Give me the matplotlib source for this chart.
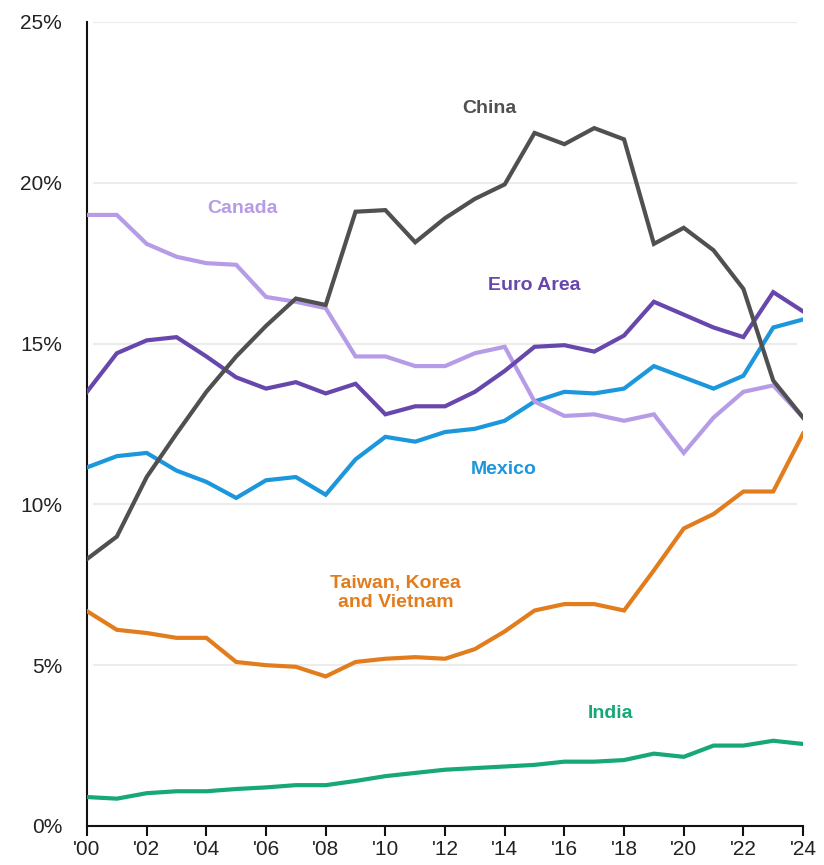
import matplotlib
matplotlib.use("Agg")
import matplotlib.pyplot as plt
import numpy as np

years = list(range(2000, 2025))

china = [8.3, 9.0, 10.85, 12.2, 13.5, 14.6, 15.55, 16.4, 16.2, 19.1, 19.15, 18.15,
         18.9, 19.5, 19.95, 21.55, 21.2, 21.7, 21.35, 18.1, 18.6, 17.9, 16.7, 13.85, 12.7]
canada = [19.0, 19.0, 18.1, 17.7, 17.5, 17.45, 16.45, 16.3, 16.1, 14.6, 14.6, 14.3,
          14.3, 14.7, 14.9, 13.2, 12.75, 12.8, 12.6, 12.8, 11.6, 12.7, 13.5, 13.7, 12.7]
euro_area = [13.5, 14.7, 15.1, 15.2, 14.6, 13.95, 13.6, 13.8, 13.45, 13.75, 12.8, 13.05,
             13.05, 13.5, 14.15, 14.9, 14.95, 14.75, 15.25, 16.3, 15.9, 15.5, 15.2, 16.6, 16.0]
mexico = [11.15, 11.5, 11.6, 11.05, 10.7, 10.2, 10.75, 10.85, 10.3, 11.4, 12.1, 11.95,
          12.25, 12.35, 12.6, 13.2, 13.5, 13.45, 13.6, 14.3, 13.95, 13.6, 14.0, 15.5, 15.75]
asia_three = [6.68, 6.1, 6.0, 5.85, 5.85, 5.1, 5.0, 4.95, 4.65, 5.1, 5.2, 5.25,
              5.2, 5.5, 6.05, 6.7, 6.9, 6.9, 6.7, 7.95, 9.25, 9.7, 10.4, 10.4, 12.2]
india = [0.9, 0.85, 1.02, 1.08, 1.08, 1.15, 1.2, 1.27, 1.27, 1.4, 1.55, 1.65,
         1.75, 1.8, 1.85, 1.9, 2.0, 2.0, 2.05, 2.25, 2.15, 2.5, 2.5, 2.65, 2.55]

series = [
    ("Mexico", mexico, "#1c97dc", (2013.95, 11.1)),
    ("Taiwan, Korea\nand Vietnam", asia_three, "#e27d1e", (2010.35, 7.25)),
    ("India", india, "#17a878", (2017.55, 3.5)),
    ("Canada", canada, "#b69ce6", (2005.2, 19.2)),
    ("Euro Area", euro_area, "#6847ad", (2015.0, 16.8)),
    ("China", china, "#505050", (2013.5, 22.3)),
]

yticks = [0, 5, 10, 15, 20, 25]
xticks = list(range(2000, 2025, 2))
xticklabels = ["'%02d" % (y % 100) for y in xticks]

plt.rcParams["font.family"] = ["Liberation Sans", "DejaVu Sans"]

fig = plt.figure(figsize=(8.24, 8.65), dpi=100)
ax = fig.add_axes([0.1056, 0.0451, 0.869, 0.9295])

for name, vals, color, (lx, ly) in series:
    ax.plot(years, vals, color=color, lw=3.0, solid_joinstyle="miter", zorder=3)
    ax.text(lx, ly, name, color=color, fontsize=14, fontweight="bold",
            ha="center", va="center", linespacing=1.2, zorder=4)

ax.set_xlim(2000, 2024)
ax.set_ylim(0, 25)
ax.set_yticks(yticks)
ax.set_yticklabels(["%d%%" % v for v in yticks])
ax.set_xticks(xticks)
ax.set_xticklabels(xticklabels)

for v in yticks[1:]:
    ax.axhline(v, xmin=0.01, xmax=0.99, color="#ececec", lw=1.5, zorder=1)

for side in ["top", "right"]:
    ax.spines[side].set_visible(False)
for side in ["left", "bottom"]:
    ax.spines[side].set_color("#111111")
    ax.spines[side].set_linewidth(1.5)

ax.tick_params(axis="y", length=0, pad=18, labelsize=15, colors="#222222")
ax.tick_params(axis="x", length=7, width=1.5, direction="out", pad=3,
               labelsize=15, colors="#222222")
ax.tick_params(axis="x", color="#111111")

fig.savefig("out.png", dpi=100)
